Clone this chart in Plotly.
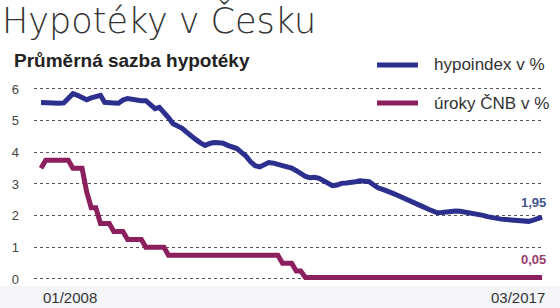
import pandas as pd
import plotly.graph_objects as go

# ---- data ----
months = pd.date_range("2008-01-01", "2017-03-01", freq="MS")

hypoindex = [
    5.57, 5.56, 5.55, 5.54, 5.55, 5.56, 5.72, 5.85, 5.80, 5.72,
    5.66, 5.72, 5.78, 5.80, 5.58, 5.55, 5.56, 5.55, 5.65, 5.70,
    5.67, 5.64, 5.63, 5.63, 5.48, 5.38, 5.42, 5.28, 5.10, 4.90,
    4.84, 4.76, 4.63, 4.50, 4.40, 4.30, 4.22, 4.28, 4.31, 4.30,
    4.29, 4.22, 4.15, 4.12, 4.00, 3.88, 3.70, 3.58, 3.54, 3.60,
    3.68, 3.66, 3.62, 3.61, 3.56, 3.50, 3.42, 3.33, 3.24, 3.20,
    3.21, 3.18, 3.10, 3.03, 2.95, 2.97, 3.02, 3.03, 3.04, 3.07,
    3.10, 3.09, 3.07, 2.97, 2.88, 2.83, 2.79, 2.72, 2.66, 2.60,
    2.52, 2.46, 2.40, 2.34, 2.27, 2.20, 2.14, 2.09, 2.10, 2.12,
    2.13, 2.15, 2.14, 2.12, 2.11, 2.08, 2.05, 2.01, 1.97, 1.93,
    1.91, 1.89, 1.88, 1.87, 1.85, 1.84, 1.81, 1.82, 1.86, 1.91,
    1.95,
]

cnb_rate = (
    [3.50]
    + [3.75] * 6
    + [3.50] * 3
    + [2.75]
    + [2.25] * 2
    + [1.75] * 3
    + [1.50] * 3
    + [1.25] * 4
    + [1.00] * 5
    + [0.75] * 25
    + [0.50] * 3
    + [0.25] * 2
    + [0.05] * 53
)

series_names = ["hypoindex v %", "úroky ČNB v %"]
end_labels = ["1,95", "0,05"]
x_tick_labels = ["01/2008", "03/2017"]
y_ticks = [0, 1, 2, 3, 4, 5, 6]

title_text = "Hypotéky v Česku"
subtitle_text = "Průměrná sazba hypotéky"

# ---- style ----
BLUE = "#2c2f8e"
PURPLE = "#8c1f5d"
W, H = 560, 308
ML, MR, MT, MB = 34, 17, 80, 23
PW, PH = W - ML - MR, H - MT - MB


def px_x(px):
    return (px - ML) / PW


def px_y(py):
    return (H - MB - py) / PH


fig = go.Figure()
fig.add_trace(go.Scatter(x=months, y=hypoindex, mode="lines", name=series_names[0],
                         line=dict(color=BLUE, width=5), showlegend=False))
fig.add_trace(go.Scatter(x=months, y=cnb_rate, mode="lines", name=series_names[1],
                         line=dict(color=PURPLE, width=5), showlegend=False))

x0 = months[0] - pd.Timedelta(days=47)
x1 = months[-1] + pd.Timedelta(days=6)

fig.update_layout(
    width=W, height=H,
    margin=dict(l=ML, r=MR, t=MT, b=MB, pad=0),
    paper_bgcolor="white", plot_bgcolor="rgba(0,0,0,0)",
    font=dict(family="Liberation Sans, Arial, sans-serif", color="#333333"),
    xaxis=dict(range=[x0, x1], showgrid=False, showticklabels=False, zeroline=False,
               showline=False, ticks=""),
    yaxis=dict(range=[-0.19, 6.284], tickvals=y_ticks, ticktext=[str(v) for v in y_ticks],
               showgrid=True, gridcolor="#555555", griddash="dot", gridwidth=1,
               zeroline=False, showline=False, ticks="", ticklabelstandoff=14,
               tickfont=dict(size=13, color="#444444")),
    shapes=[
        dict(type="rect", xref="paper", yref="paper", x0=-1, x1=2, y0=px_y(286), y1=px_y(310),
             fillcolor="#f3f5f8", line=dict(width=0), layer="below"),
        dict(type="line", xref="paper", yref="paper", x0=px_x(377), x1=px_x(418),
             y0=px_y(65), y1=px_y(65), line=dict(color=BLUE, width=5)),
        dict(type="line", xref="paper", yref="paper", x0=px_x(377), x1=px_x(418),
             y0=px_y(103), y1=px_y(103), line=dict(color=PURPLE, width=5)),
    ],
    annotations=[
        dict(text=title_text, xref="paper", yref="paper", x=px_x(1), y=px_y(21),
             xanchor="left", yanchor="middle", showarrow=False, borderpad=0,
             font=dict(family="DejaVu Sans", size=35, color="#333333", weight=200)),
        dict(text="<b>" + subtitle_text + "</b>", xref="paper", yref="paper", x=px_x(12), y=px_y(61),
             xanchor="left", yanchor="middle", showarrow=False,
             font=dict(size=19, color="#222222")),
        dict(text=series_names[0], xref="paper", yref="paper", x=px_x(432), y=px_y(65),
             xanchor="left", yanchor="middle", showarrow=False, font=dict(size=17, color="#333333")),
        dict(text=series_names[1], xref="paper", yref="paper", x=px_x(432), y=px_y(103),
             xanchor="left", yanchor="middle", showarrow=False, font=dict(size=17, color="#333333")),
        dict(text="<b>" + end_labels[0] + "</b>", xref="x", yref="y", x=months[-1], y=hypoindex[-1],
             xanchor="center", yanchor="bottom", yshift=5, xshift=-9, showarrow=False,
             font=dict(size=13, color="#46558f")),
        dict(text="<b>" + end_labels[1] + "</b>", xref="x", yref="y", x=months[-1], y=cnb_rate[-1],
             xanchor="center", yanchor="bottom", yshift=8, xshift=-9, showarrow=False,
             font=dict(size=13, color="#9a3a6b")),
        dict(text=x_tick_labels[0], xref="x", yref="paper", x=months[0], y=px_y(297),
             xanchor="left", yanchor="middle", xshift=0, showarrow=False,
             font=dict(size=15, color="#333333")),
        dict(text=x_tick_labels[1], xref="x", yref="paper", x=months[-1], y=px_y(297),
             xanchor="right", yanchor="middle", xshift=5, showarrow=False,
             font=dict(size=15, color="#333333")),
    ],
)

fig.write_html("out.html")
